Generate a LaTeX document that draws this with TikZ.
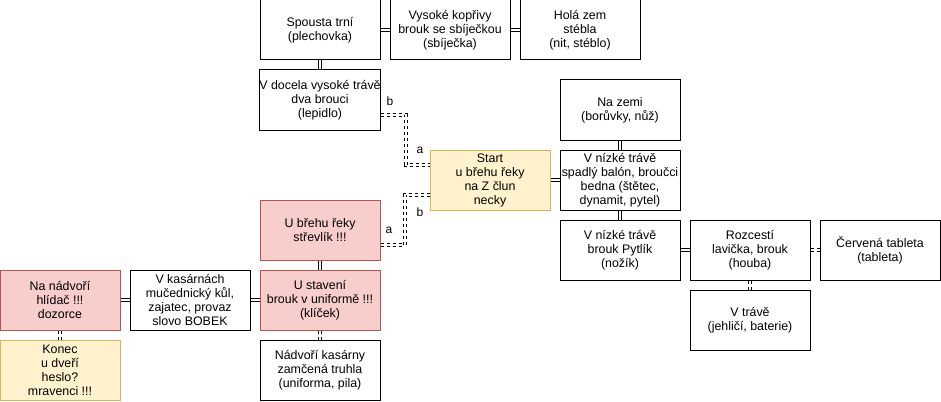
\documentclass[tikz,border=0pt]{standalone}
\usepackage{fontspec}
\setmainfont{Liberation Sans}
\usetikzlibrary{calc}
\definecolor{redfill}{HTML}{F8CECC}
\definecolor{redline}{HTML}{B85450}
\definecolor{yelfill}{HTML}{FFF2CC}
\definecolor{yelline}{HTML}{D6B656}
\begin{document}
\begin{tikzpicture}[x=1pt,y=-1pt,
  box/.style={draw=black,line width=1pt,fill=white,minimum width=120pt,minimum height=60pt,inner sep=0pt,align=center,font=\fontsize{12.4}{14}\selectfont},
  redbox/.style={box,draw=redline,fill=redfill},
  yelbox/.style={box,draw=yelline,fill=yelfill},
  dbl/.style={draw=black,line width=1pt,double=white,double distance=2pt},
  dbld/.style={dbl,dash pattern=on 3pt off 3pt},
  lbl/.style={font=\fontsize{12}{14}\selectfont,inner sep=0pt}
]
\useasboundingbox (0,0) rectangle (941,401);
% nodes
\node[box] (spousta) at (320,30) {Spousta trní\\(plechovka)};
\node[box] (koprivy) at (450,30) {Vysoké kopřivy\\brouk se sbíječkou\\(sbíječka)};
\node[box] (hola) at (580,30) {Holá zem\\stébla\\(nit, stéblo)};
\node[box] (docela) at (320,100) {V docela vysoké trávě\\dva brouci\\(lepidlo)};
\node[yelbox] (start) at (490,180) {Start\\u břehu řeky\\na Z člun\\necky};
\node[box] (zemi) at (620,110) {Na zemi\\(borůvky, nůž)};
\node[box] (balon) at (620,180) {V nízké trávě\\spadlý balón, broučci\\bedna (štětec,\\dynamit, pytel)};
\node[box] (pytlik) at (620,250) {V nízké trávě\\brouk Pytlík\\(nožík)};
\node[box] (rozcesti) at (750,250) {Rozcestí\\lavička, brouk\\(houba)};
\node[box] (tableta) at (880,250) {Červená tableta\\(tableta)};
\node[box] (trave) at (750,320) {V trávě\\(jehličí, baterie)};
\node[redbox] (strevlik) at (320,230) {U břehu řeky\\střevlík !!!};
\node[redbox] (staveni) at (320,300) {U stavení\\brouk v uniformě !!!\\(klíček)};
\node[box] (nadvori) at (320,370) {Nádvoří kasárny\\zamčená truhla\\(uniforma, pila)};
\node[box] (kasarny) at (190,300) {V kasárnách\\mučednický kůl,\\zajatec, provaz\\slovo BOBEK};
\node[redbox] (hlidac) at (60,300) {Na nádvoří\\hlídač !!!\\dozorce};
\node[yelbox] (konec) at (60,370) {Konec\\u dveří\\heslo?\\mravenci !!!};
% anchor points
\coordinate (docA) at ($(docela.north east)!0.75!(docela.south east)$);
\coordinate (startA) at ($(start.north west)!0.25!(start.south west)$);
\coordinate (startB) at ($(start.north west)!0.75!(start.south west)$);
\coordinate (strevA) at ($(strevlik.north east)!0.75!(strevlik.south east)$);
% connectors
\draw[dbl] (spousta) -- (koprivy);
\draw[dbl] (koprivy) -- (hola);
\draw[dbl] (spousta) -- (docela);
\draw[dbld] (docA) -- ++(25,0) |- (startA);
\draw[dbld] (startB) -- ++(-25,0) |- (strevA);
\draw[dbl] (start) -- (balon);
\draw[dbl] (zemi) -- (balon);
\draw[dbl] (balon) -- (pytlik);
\draw[dbl] (pytlik) -- (rozcesti);
\draw[dbld] (rozcesti) -- (tableta);
\draw[dbld] (rozcesti) -- (trave);
\draw[dbl] (strevlik) -- (staveni);
\draw[dbld] (staveni) -- (nadvori);
\draw[dbl] (staveni) -- (kasarny);
\draw[dbl] (kasarny) -- (hlidac);
\draw[dbld] (hlidac) -- (konec);
% labels
\node[lbl] (lb1) at (390,101) {b};
\node[lbl] (la1) at (420,150) {a};
\node[lbl] (lb2) at (420,212) {b};
\node[lbl] (la2) at (389,230) {a};
\end{tikzpicture}
\end{document}
